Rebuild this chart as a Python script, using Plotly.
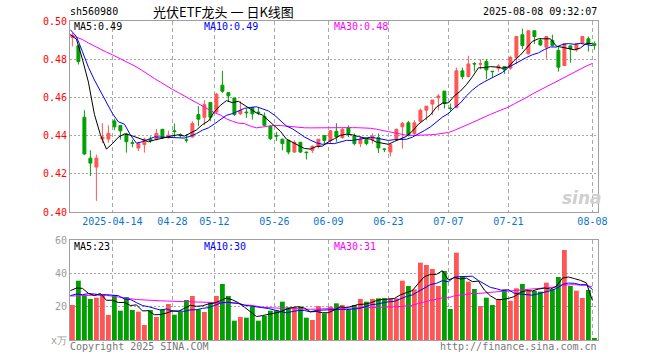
import plotly.graph_objects as go

# ---------------- data ----------------
opens = [0.4915, 0.4870, 0.4496, 0.4282, 0.4235, 0.4382, 0.4382, 0.4477, 0.4453, 0.4409,
         0.4363, 0.4335, 0.4353, 0.4381, 0.4381, 0.4433, 0.4389, 0.4425, 0.4405, 0.4378,
         0.4393, 0.4510, 0.4496, 0.4573, 0.4524, 0.4664, 0.4625, 0.4597, 0.4514, 0.4523,
         0.4547, 0.4523, 0.4501, 0.4449, 0.4400, 0.4381, 0.4376, 0.4314, 0.4365, 0.4314,
         0.4323, 0.4344, 0.4400, 0.4375, 0.4423, 0.4389, 0.4440, 0.4398, 0.4358, 0.4381,
         0.4379, 0.4389, 0.4330, 0.4314, 0.4379, 0.4446, 0.4467, 0.4411, 0.4475, 0.4533,
         0.4565, 0.4598, 0.4633, 0.4544, 0.4546, 0.4739, 0.4709, 0.4777, 0.4774, 0.4788,
         0.4737, 0.4753, 0.4761, 0.4753, 0.4809, 0.4928, 0.4828, 0.4949, 0.4898, 0.4863,
         0.4898, 0.4846, 0.4767, 0.4870, 0.4849, 0.4884, 0.4907, 0.4881]
highs = [0.4937, 0.4875, 0.4533, 0.4323, 0.4300, 0.4465, 0.4453, 0.4488, 0.4455, 0.4414,
         0.4379, 0.4367, 0.4389, 0.4396, 0.4435, 0.4435, 0.4426, 0.4463, 0.4412, 0.4407,
         0.4475, 0.4554, 0.4585, 0.4573, 0.4624, 0.4739, 0.4625, 0.4597, 0.4580, 0.4541,
         0.4550, 0.4547, 0.4521, 0.4454, 0.4419, 0.4384, 0.4376, 0.4375, 0.4367, 0.4314,
         0.4349, 0.4381, 0.4400, 0.4428, 0.4465, 0.4440, 0.4453, 0.4411, 0.4396, 0.4384,
         0.4411, 0.4411, 0.4332, 0.4358, 0.4437, 0.4472, 0.4477, 0.4481, 0.4542, 0.4554,
         0.4586, 0.4618, 0.4633, 0.4568, 0.4756, 0.4756, 0.4818, 0.4784, 0.4800, 0.4800,
         0.4737, 0.4774, 0.4761, 0.4818, 0.4919, 0.4960, 0.4949, 0.4949, 0.4911, 0.4919,
         0.4928, 0.4870, 0.4884, 0.4870, 0.4881, 0.4919, 0.4919, 0.4893]
lows = [0.4867, 0.4772, 0.4298, 0.4188, 0.4058, 0.4361, 0.4363, 0.4428, 0.4379, 0.4311,
        0.4339, 0.4319, 0.4311, 0.4361, 0.4375, 0.4382, 0.4384, 0.4390, 0.4390, 0.4363,
        0.4388, 0.4449, 0.4454, 0.4475, 0.4517, 0.4624, 0.4576, 0.4503, 0.4507, 0.4493,
        0.4484, 0.4507, 0.4449, 0.4376, 0.4372, 0.4323, 0.4302, 0.4309, 0.4309, 0.4275,
        0.4309, 0.4332, 0.4358, 0.4358, 0.4367, 0.4384, 0.4393, 0.4349, 0.4340, 0.4349,
        0.4358, 0.4309, 0.4314, 0.4291, 0.4375, 0.4332, 0.4396, 0.4402, 0.4472, 0.4481,
        0.4507, 0.4533, 0.4542, 0.4530, 0.4546, 0.4695, 0.4705, 0.4735, 0.4747, 0.4695,
        0.4705, 0.4735, 0.4723, 0.4744, 0.4774, 0.4853, 0.4826, 0.4881, 0.4870, 0.4802,
        0.4867, 0.4735, 0.4765, 0.4782, 0.4840, 0.4884, 0.4840, 0.4849]
closes = [0.4925, 0.4788, 0.4304, 0.4256, 0.4282, 0.4393, 0.4412, 0.4446, 0.4425, 0.4368,
          0.4360, 0.4358, 0.4381, 0.4374, 0.4411, 0.4388, 0.4402, 0.4421, 0.4400, 0.4376,
          0.4463, 0.4486, 0.4562, 0.4496, 0.4617, 0.4632, 0.4608, 0.4510, 0.4531, 0.4520,
          0.4514, 0.4520, 0.4454, 0.4384, 0.4398, 0.4358, 0.4314, 0.4365, 0.4314, 0.4311,
          0.4344, 0.4381, 0.4375, 0.4425, 0.4393, 0.4433, 0.4411, 0.4358, 0.4381, 0.4358,
          0.4398, 0.4335, 0.4328, 0.4353, 0.4433, 0.4463, 0.4402, 0.4467, 0.4533, 0.4554,
          0.4586, 0.4607, 0.4568, 0.4542, 0.4739, 0.4709, 0.4775, 0.4775, 0.4776, 0.4744,
          0.4735, 0.4765, 0.4744, 0.4809, 0.4919, 0.4872, 0.4949, 0.4919, 0.4875, 0.4919,
          0.4872, 0.4758, 0.4881, 0.4854, 0.4881, 0.4919, 0.4881, 0.4872]
volumes = [21, 35.6, 26.6, 24.6, 25.4, 27.4, 15, 27, 17.6, 25.8,
           18, 17, 9, 18, 13.8, 18.4, 21.6, 15.2, 17, 24,
           26.4, 18.4, 16.8, 22.6, 26.4, 33.6, 26.4, 11.6, 13.8, 13.4,
           20, 11.6, 14.4, 17.6, 17.8, 23, 19.6, 19.6, 20, 13.4,
           12, 20.4, 16, 20, 22, 21, 18, 21, 24.6, 23,
           24.6, 25, 25, 25, 25, 35.6, 32.4, 30.4, 46.4, 45,
           42.6, 32.4, 41.4, 18.6, 52.4, 38.4, 35, 30.6, 20.4, 25.4,
           21, 24.4, 30.4, 23.6, 31, 33.6, 29.6, 29.4, 29, 34.4,
           30.4, 37.8, 54, 32.4, 29.6, 25.2, 30, 1.2]

# moving-average values before a full window exists
ma5_head = [0.4928, 0.4905, 0.4800, 0.4680]
ma10_head = [0.4954, 0.4919, 0.4840, 0.4758, 0.4691, 0.4630, 0.4572, 0.4516, 0.4472]
ma30_head = [0.4928, 0.4915, 0.4903, 0.4885, 0.4868, 0.4851, 0.4837, 0.4823, 0.4808, 0.4790,
             0.4777, 0.4760, 0.4740, 0.4718, 0.4699, 0.4680, 0.4660, 0.4642, 0.4625, 0.4607,
             0.4590, 0.4570, 0.4553, 0.4537, 0.4520, 0.4508, 0.4488, 0.4475, 0.4465]
vma5_head = [29.6, 31.2, 31.0, 28.0]
vma10_head = [26.6, 27.6, 27.2, 27.8, 27.6, 27.0, 27.2, 27.0, 26.6]
vma30_head = [26.4, 26.6, 26.8, 27.0, 27.2, 27.0, 26.8, 26.4, 25.8, 25.2,
              24.8, 24.3, 24.0, 23.8, 23.6, 23.5, 23.4, 23.4, 23.2, 23.0,
              22.9, 22.8, 22.8, 22.8, 22.8, 22.7, 22.6, 22.2, 21.8]

tick_index = [7, 17, 24, 34, 43, 53, 63, 73, 87]
tick_labels = ["2025-04-14", "04-28", "05-12", "05-26", "06-09", "06-23", "07-07", "07-21", "08-08"]
price_ticks = [0.40, 0.42, 0.44, 0.46, 0.48, 0.50]
vol_ticks = [0, 20, 40, 60]
vol_tick_labels = ["x万", "20", "40", "60"]

code = "sh560980"
title = "光伏ETF龙头 一 日K线图"
stamp = "2025-08-08 09:32:07"

# ---------------- styles ----------------
RED = "#ff5555"
GREEN = "#00a000"
GRID = "#a8a8a8"
BORDER = "#a0a0a0"
BLUE_TXT = "#0a74d0"
GRAY_TXT = "#9a9a9a"
MONO = "DejaVu Sans Mono"
L, R, T, B, W, H = 70, 62, 21, 20, 660, 360
PW, PH = W - L - R, H - T - B
SHIFT = -0.33  # MA lines / gridlines sit slightly left of candle centres


def rolling(vals, n, head):
    out = list(head)
    for i in range(len(head), len(vals)):
        out.append(sum(vals[i - n + 1:i + 1]) / n)
    return out


ma5 = rolling(closes, 5, ma5_head)
ma10 = rolling(closes, 10, ma10_head)
ma30 = rolling(closes, 30, ma30_head)
vma5 = rolling(volumes, 5, vma5_head)
vma10 = rolling(volumes, 10, vma10_head)
vma30 = rolling(volumes, 30, vma30_head)

n = len(closes)
idx = list(range(n))
line_x = [i + SHIFT for i in idx]
vol_colors = [RED if c >= o else GREEN for o, c in zip(opens, closes)]

fig = go.Figure()
fig.add_trace(go.Candlestick(
    x=idx, open=opens, high=highs, low=lows, close=closes,
    increasing=dict(line=dict(color=RED, width=1), fillcolor=RED),
    decreasing=dict(line=dict(color=GREEN, width=1), fillcolor=GREEN),
    whiskerwidth=0, hoverinfo="skip", xaxis="x", yaxis="y"))
for vals, col in [(ma30, "#ff00ff"), (ma10, "#0000ff"), (ma5, "#000000")]:
    fig.add_trace(go.Scatter(x=line_x, y=vals, mode="lines", line=dict(color=col, width=1),
                             hoverinfo="skip", xaxis="x", yaxis="y"))

fig.add_trace(go.Bar(x=idx, y=volumes, marker=dict(color=vol_colors, line=dict(width=0)),
                     width=0.8, hoverinfo="skip", xaxis="x2", yaxis="y2"))
for vals, col in [(vma30, "#ff00ff"), (vma10, "#0000ff"), (vma5, "#000000")]:
    fig.add_trace(go.Scatter(x=line_x, y=vals, mode="lines", line=dict(color=col, width=1),
                             hoverinfo="skip", xaxis="x2", yaxis="y2"))


def px(xp):
    return (xp - L) / PW


def py(yp):
    return (H - B - yp) / PH


xr = [-0.4, n - 0.4]
grid_x = [t + SHIFT for t in tick_index]
common_x = dict(range=xr, tickvals=grid_x, showgrid=True, gridcolor=GRID, griddash="4px,3px",
                gridwidth=1, showline=True, mirror=True, linecolor=BORDER, linewidth=1,
                ticks="", zeroline=False, fixedrange=True, automargin=False)

main_bottom = py(212)
vol_top = py(240)

fig.update_layout(
    width=W, height=H, margin=dict(l=L, r=R, t=T, b=B, autoexpand=False),
    paper_bgcolor="white", plot_bgcolor="white", showlegend=False,
    font=dict(family=MONO, size=10, color="black"),
    xaxis=dict(common_x, domain=[0, 1], anchor="y", ticktext=tick_labels,
               tickfont=dict(color=BLUE_TXT, size=10, family=MONO),
               rangeslider=dict(visible=False)),
    yaxis=dict(domain=[main_bottom, 1], range=[price_ticks[0], price_ticks[-1]],
               tickvals=price_ticks, ticktext=[f"{v:.2f}" for v in price_ticks],
               tickfont=dict(color="#ff0000", size=10, family=MONO),
               showgrid=True, gridcolor=GRID, griddash="2px,2px", showline=True, mirror=True,
               linecolor=BORDER, linewidth=1, ticks="", zeroline=False, ticklabelstandoff=0,
               automargin=False),
    xaxis2=dict(common_x, domain=[0, 1], anchor="y2", showticklabels=False),
    yaxis2=dict(domain=[0, vol_top], range=[vol_ticks[0], vol_ticks[-1]],
                tickvals=vol_ticks, ticktext=vol_tick_labels,
                tickfont=dict(color=GRAY_TXT, size=10, family=MONO),
                showgrid=True, gridcolor=GRID, griddash="2px,2px", showline=True, mirror=True,
                linecolor=BORDER, linewidth=1, ticks="", zeroline=False, ticklabelstandoff=0,
                automargin=False),
)

ann = []


def text(x, y, s, color="black", anchor="left", size=10, family=MONO, **kw):
    ann.append(dict(x=px(x), y=py(y), xref="paper", yref="paper", text=s, showarrow=False,
                    xanchor=anchor, yanchor="middle", borderpad=0,
                    font=dict(color=color, size=size, family=family), **kw))


text(69, 12, code)
text(223, 11.5, title, anchor="center", size=13, family="Noto Sans CJK SC")
text(598, 12, stamp, anchor="right")
text(73, 27, f"MA5:{ma5[-1]:.2f}", "#000000")
text(203, 27, f"MA10:{ma10[-1]:.2f}", "#0000ff")
text(333, 27, f"MA30:{ma30[-1]:.2f}", "#ff00ff")
text(73, 246, f"MA5:{int(vma5[-1])}", "#000000")
text(203, 246, f"MA10:{int(vma10[-1])}", "#0000ff")
text(333, 246, f"MA30:{int(vma30[-1])}", "#ff00ff")
text(69, 346, "Copyright 2025 SINA.COM", "#777777")
text(598, 346, "http://finance.sina.com.cn", "#777777", anchor="right")
text(582, 198, "<b><i>sina</i></b>", "#cfcfcf", anchor="center", size=17, family="DejaVu Sans")
fig.update_layout(annotations=ann)

fig.write_html("out.html", config={"displayModeBar": False},
               post_script="document.body.style.margin='0';document.body.style.overflow='hidden';")
